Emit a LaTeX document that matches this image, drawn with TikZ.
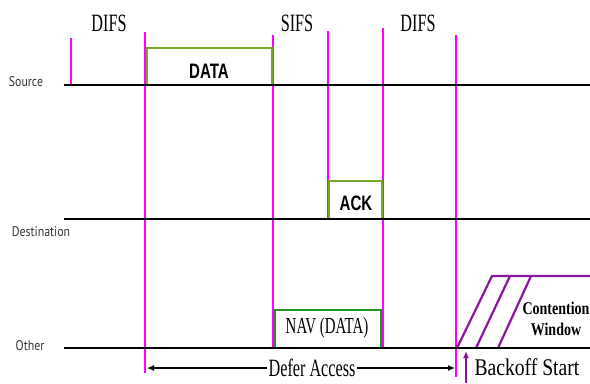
\documentclass[tikz,border=0pt]{standalone}
\usepackage{fontspec}
\newfontfamily\narrowserif[FakeStretch=0.65]{Liberation Serif}
\newfontfamily\cwserif[FakeStretch=0.78]{Liberation Serif}
\newfontfamily\backserif[FakeStretch=0.82]{Liberation Serif}
\newfontfamily\labelsans[FakeStretch=0.85]{PT Sans}
\newfontfamily\boxsans[FakeStretch=0.72]{Liberation Sans}
\usetikzlibrary{arrows.meta}

\definecolor{markmagenta}{RGB}{255,0,255}
\definecolor{dataolive}{RGB}{122,166,40}
\definecolor{navgreen}{RGB}{30,150,30}
\definecolor{cwpurple}{RGB}{140,20,160}

\tikzset{
  timeline/.style={line width=2.8bp, black},
  marker/.style={line width=1.6bp, markmagenta},
  station/.style={font=\labelsans\fontsize{14}{14}\selectfont, text=black!80},
  gap/.style={font=\narrowserif\fontsize{25}{25}\selectfont},
  frame/.style={line width=2.4bp, fill=white},
  frametext/.style={font=\boxsans\bfseries\fontsize{21}{21}\selectfont},
  cw/.style={line width=2.2bp, cwpurple}
}

\begin{document}
\begin{tikzpicture}[x=1bp, y=-1bp]
    \useasboundingbox (0,0) rectangle (590,383);

    % Interframe spacing markers
    \draw[marker] (71,38) -- (71,85);
    \draw[marker] (145,32) -- (145,373);
    \draw[marker] (273,35) -- (273,348);
    \draw[marker] (328,31) -- (328,219);
    \draw[marker] (383,28) -- (383,348);
    \draw[marker] (456,35) -- (456,377);

    \node[gap] (difsa) at (109,23) {DIFS};
    \node[gap] (sifs) at (297,23) {SIFS};
    \node[gap] (difsb) at (418,23) {DIFS};

    % Frames
    \draw[frame, draw=dataolive] (147,48) rectangle (272,85);
    \node[frametext] (data) at (209,71) {DATA};
    \draw[frame, draw=dataolive] (329,181) rectangle (382,219);
    \node[frametext] (ack) at (356,203) {ACK};
    \draw[frame, draw=navgreen] (275,310) rectangle (381,348);
    \node[gap, font=\narrowserif\fontsize{23}{23}\selectfont] (nav) at (327,328) {NAV (DATA)};

    % Contention window
    \draw[cw] (457,348) -- (492,276) -- (590,276);
    \draw[cw] (476,348) -- (510,276);
    \draw[cw] (498,348) -- (531,276);
    \node[font=\cwserif\bfseries\fontsize{18}{21}\selectfont, align=center] (cwin) at (556,319) {Contention\\Window};

    % Stations
    \draw[timeline] (64,85) -- (590,85);
    \draw[timeline] (64,219) -- (590,219);
    \draw[timeline] (64,348) -- (590,348);
    \node[station] (src) at (26,82) {Source};
    \node[station] (dst) at (41,232) {Destination};
    \node[station] (oth) at (30,346) {Other};

    % Defer access and backoff
    \coordinate (deferl) at (147,368);
    \coordinate (deferr) at (455,368);
    \node[gap, inner sep=1bp] (defer) at (312,368) {Defer Access};
    \draw[line width=1.4bp, -{Latex[length=7bp,width=6bp]}] (defer.west) -- (deferl);
    \draw[line width=1.4bp, -{Latex[length=7bp,width=6bp]}] (defer.east) -- (deferr);

    \coordinate (bstart) at (466,383);
    \coordinate (btip) at (466,351);
    \draw[line width=1.6bp, cwpurple, -{Latex[length=7bp,width=6bp]}] (bstart) -- (btip);
    \node[font=\backserif\fontsize{24}{24}\selectfont] (backoff) at (527,367) {Backoff Start};
\end{tikzpicture}
\end{document}
